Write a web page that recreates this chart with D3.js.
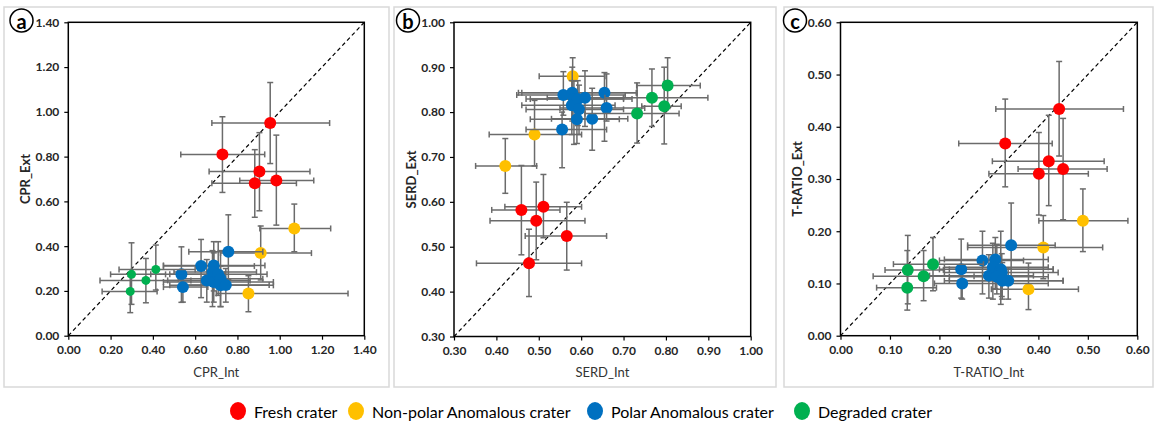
<!DOCTYPE html>
<html><head><meta charset="utf-8">
<script src="https://cdn.jsdelivr.net/npm/d3@7"></script>
<style>body{margin:0;background:#fff}text{font-family:Lato,"Open Sans",sans-serif}</style>
</head><body>
<svg id="chart" width="1155" height="423"></svg>
<script>
// ---------- DATA ----------
const categories = ["Fresh crater", "Non-polar Anomalous crater", "Polar Anomalous crater", "Degraded crater"];
const categoryColors = ["#FF0000", "#FFC000", "#0070C0", "#00B050"];

const cprTicks = [0.0, 0.2, 0.4, 0.6, 0.8, 1.0, 1.2, 1.4];
const serdTicks = [0.3, 0.4, 0.5, 0.6, 0.7, 0.8, 0.9, 1.0];
const tratioTicks = [0.0, 0.1, 0.2, 0.3, 0.4, 0.5, 0.6];

// rows: [category, Int, Ext, IntLow, IntHigh, ExtLow, ExtHigh]
const cprData = [
  [0, 0.955, 0.950, 0.679, 1.236, 0.769, 1.131],
  [0, 0.729, 0.810, 0.532, 0.929, 0.640, 0.978],
  [0, 0.904, 0.733, 0.666, 1.143, 0.558, 0.907],
  [0, 0.882, 0.681, 0.679, 1.079, 0.529, 0.831],
  [0, 0.984, 0.693, 0.811, 1.161, 0.494, 0.896],
  [1, 1.069, 0.479, 0.906, 1.241, 0.375, 0.588],
  [1, 0.910, 0.369, 0.720, 1.150, 0.249, 0.490],
  [1, 0.852, 0.189, 0.700, 1.323, 0.107, 0.268],
  [2, 0.535, 0.274, 0.390, 0.740, 0.149, 0.397],
  [2, 0.542, 0.217, 0.450, 0.660, 0.150, 0.280],
  [2, 0.628, 0.311, 0.450, 0.880, 0.170, 0.430],
  [2, 0.655, 0.247, 0.470, 0.860, 0.150, 0.340],
  [2, 0.688, 0.314, 0.450, 0.930, 0.200, 0.420],
  [2, 0.682, 0.284, 0.500, 0.890, 0.130, 0.380],
  [2, 0.688, 0.240, 0.450, 0.970, 0.150, 0.370],
  [2, 0.709, 0.275, 0.480, 0.940, 0.180, 0.420],
  [2, 0.720, 0.254, 0.520, 0.920, 0.130, 0.380],
  [2, 0.720, 0.225, 0.480, 0.970, 0.130, 0.310],
  [2, 0.745, 0.226, 0.550, 0.950, 0.150, 0.300],
  [2, 0.757, 0.375, 0.570, 0.920, 0.250, 0.540],
  [3, 0.299, 0.274, 0.200, 0.460, 0.140, 0.415],
  [3, 0.293, 0.198, 0.160, 0.420, 0.103, 0.265],
  [3, 0.367, 0.247, 0.150, 0.580, 0.147, 0.345],
  [3, 0.414, 0.296, 0.240, 0.600, 0.204, 0.405]
];

const serdData = [
  [0, 0.459, 0.582, 0.389, 0.550, 0.482, 0.681],
  [0, 0.511, 0.589, 0.420, 0.601, 0.520, 0.661],
  [0, 0.494, 0.558, 0.385, 0.609, 0.471, 0.644],
  [0, 0.566, 0.524, 0.468, 0.660, 0.448, 0.599],
  [0, 0.477, 0.463, 0.353, 0.601, 0.389, 0.539],
  [1, 0.580, 0.880, 0.501, 0.656, 0.838, 0.921],
  [1, 0.490, 0.750, 0.383, 0.601, 0.680, 0.826],
  [1, 0.421, 0.680, 0.351, 0.495, 0.619, 0.741],
  [2, 0.558, 0.838, 0.448, 0.704, 0.793, 0.890],
  [2, 0.579, 0.843, 0.452, 0.732, 0.780, 0.900],
  [2, 0.583, 0.829, 0.470, 0.700, 0.728, 0.869],
  [2, 0.578, 0.815, 0.460, 0.680, 0.750, 0.870],
  [2, 0.592, 0.829, 0.480, 0.720, 0.770, 0.870],
  [2, 0.609, 0.832, 0.520, 0.700, 0.768, 0.892],
  [2, 0.655, 0.843, 0.460, 0.730, 0.735, 0.888],
  [2, 0.660, 0.809, 0.550, 0.750, 0.780, 0.885],
  [2, 0.595, 0.806, 0.470, 0.700, 0.750, 0.860],
  [2, 0.590, 0.784, 0.480, 0.690, 0.730, 0.840],
  [2, 0.626, 0.785, 0.530, 0.710, 0.715, 0.853],
  [2, 0.555, 0.761, 0.470, 0.660, 0.676, 0.800],
  [3, 0.804, 0.859, 0.731, 0.881, 0.808, 0.921],
  [3, 0.767, 0.832, 0.656, 0.899, 0.768, 0.896],
  [3, 0.796, 0.813, 0.743, 0.836, 0.729, 0.900],
  [3, 0.732, 0.797, 0.609, 0.831, 0.731, 0.865]
];

const tratioData = [
  [0, 0.442, 0.434, 0.314, 0.572, 0.344, 0.525],
  [0, 0.333, 0.368, 0.239, 0.428, 0.285, 0.453],
  [0, 0.421, 0.334, 0.307, 0.533, 0.249, 0.422],
  [0, 0.450, 0.319, 0.359, 0.539, 0.222, 0.416],
  [0, 0.401, 0.310, 0.300, 0.501, 0.231, 0.389],
  [1, 0.490, 0.220, 0.401, 0.581, 0.161, 0.281],
  [1, 0.410, 0.169, 0.257, 0.530, 0.109, 0.230],
  [1, 0.380, 0.089, 0.305, 0.481, 0.050, 0.139],
  [2, 0.244, 0.127, 0.200, 0.430, 0.072, 0.185],
  [2, 0.246, 0.100, 0.190, 0.420, 0.070, 0.130],
  [2, 0.287, 0.144, 0.200, 0.370, 0.080, 0.200],
  [2, 0.313, 0.146, 0.210, 0.420, 0.090, 0.188],
  [2, 0.308, 0.131, 0.210, 0.420, 0.070, 0.177],
  [2, 0.324, 0.127, 0.220, 0.430, 0.060, 0.200],
  [2, 0.326, 0.121, 0.210, 0.440, 0.075, 0.157],
  [2, 0.300, 0.115, 0.180, 0.390, 0.072, 0.155],
  [2, 0.316, 0.113, 0.220, 0.420, 0.080, 0.175],
  [2, 0.327, 0.105, 0.210, 0.450, 0.070, 0.140],
  [2, 0.339, 0.105, 0.220, 0.450, 0.070, 0.130],
  [2, 0.345, 0.173, 0.257, 0.434, 0.107, 0.254],
  [3, 0.136, 0.126, 0.090, 0.208, 0.061, 0.192],
  [3, 0.135, 0.092, 0.073, 0.194, 0.049, 0.163],
  [3, 0.168, 0.114, 0.066, 0.270, 0.067, 0.163],
  [3, 0.187, 0.137, 0.107, 0.289, 0.086, 0.188]
];

// ---------- LAYOUT ----------
const panels = [
  {label: "a", data: cprData, ticks: cprTicks, xTitle: "CPR_Int", yTitle: "CPR_Ext",
   frame: [4, 7, 385, 380], plot: [68.3, 22.3, 364.3, 335.7], greenR: 4.5, lab: [21.5, 20.5], yt: 25},
  {label: "b", data: serdData, ticks: serdTicks, xTitle: "SERD_Int", yTitle: "SERD_Ext",
   frame: [394, 7, 382, 380], plot: [454, 22.3, 750.7, 336.5], greenR: 6, lab: [408, 20.5], yt: 411},
  {label: "c", data: tratioData, ticks: tratioTicks, xTitle: "T-RATIO_Int", yTitle: "T-RATIO_Ext",
   frame: [784, 7, 369, 380], plot: [840.5, 22.3, 1137.3, 335.7], greenR: 6, lab: [795, 20.5], yt: 797}
];

const svg = d3.select("#chart");
const fmt = d3.format(".2f");
const errColor = "#6b6b6b";

panels.forEach(p => {
  const [x0, y0, x1, y1] = p.plot;
  const dom = d3.extent(p.ticks);
  const xs = d3.scaleLinear().domain(dom).range([x0, x1]);
  const ys = d3.scaleLinear().domain(dom).range([y1, y0]);

  svg.append("rect").attr("x", p.frame[0]).attr("y", p.frame[1])
    .attr("width", p.frame[2]).attr("height", p.frame[3])
    .attr("fill", "none").attr("stroke", "#d9d9d9").attr("stroke-width", 1.5);

  const xa = svg.append("g").attr("transform", `translate(0,${y1})`)
    .call(d3.axisBottom(xs).tickValues(p.ticks).tickFormat(fmt).tickSize(4).tickSizeOuter(0).tickPadding(6));
  const ya = svg.append("g").attr("transform", `translate(${x0},0)`)
    .call(d3.axisLeft(ys).tickValues(p.ticks).tickFormat(fmt).tickSize(4).tickSizeOuter(0).tickPadding(5));
  [xa, ya].forEach(g => {
    g.select(".domain").remove();
    g.selectAll(".tick line").attr("stroke", "#000").attr("stroke-width", 1.2);
    g.selectAll("text").attr("font-family", "Lato, sans-serif").attr("font-weight", "bold")
      .attr("font-size", 12).attr("fill", "#262626");
  });

  svg.append("rect").attr("x", x0).attr("y", y0).attr("width", x1 - x0).attr("height", y1 - y0)
    .attr("fill", "none").attr("stroke", "#000").attr("stroke-width", 1.5);

  svg.append("line").attr("x1", xs(dom[0])).attr("y1", ys(dom[0]))
    .attr("x2", xs(dom[1])).attr("y2", ys(dom[1]))
    .attr("stroke", "#000").attr("stroke-width", 1.2).attr("stroke-dasharray", "4,3");

  const cap = 3;
  categories.forEach((c, ci) => {
    const rows = p.data.filter(r => r[0] === ci);
    const g = svg.append("g");
    rows.forEach(r => {
      const cx = xs(r[1]), cy = ys(r[2]);
      const e = g.append("g").attr("stroke", errColor).attr("stroke-width", 1.5);
      e.append("line").attr("x1", xs(r[3])).attr("x2", xs(r[4])).attr("y1", cy).attr("y2", cy);
      e.append("line").attr("x1", xs(r[3])).attr("x2", xs(r[3])).attr("y1", cy - cap).attr("y2", cy + cap);
      e.append("line").attr("x1", xs(r[4])).attr("x2", xs(r[4])).attr("y1", cy - cap).attr("y2", cy + cap);
      e.append("line").attr("x1", cx).attr("x2", cx).attr("y1", ys(r[5])).attr("y2", ys(r[6]));
      e.append("line").attr("x1", cx - cap).attr("x2", cx + cap).attr("y1", ys(r[5])).attr("y2", ys(r[5]));
      e.append("line").attr("x1", cx - cap).attr("x2", cx + cap).attr("y1", ys(r[6])).attr("y2", ys(r[6]));
    });
    g.selectAll("circle").data(rows).join("circle")
      .attr("cx", r => xs(r[1])).attr("cy", r => ys(r[2]))
      .attr("r", ci === 3 ? p.greenR : 6)
      .attr("fill", categoryColors[ci]);
  });

  svg.append("text").attr("x", (x0 + x1) / 2).attr("y", 377).attr("text-anchor", "middle")
    .attr("font-size", 13).attr("fill", "#333").text(p.xTitle);
  svg.append("text").attr("transform", `translate(${p.yt},${(y0 + y1) / 2}) rotate(-90)`)
    .attr("text-anchor", "middle").attr("dominant-baseline", "central")
    .attr("font-size", 13).attr("font-weight", "bold").attr("fill", "#262626").text(p.yTitle);

  svg.append("circle").attr("cx", p.lab[0]).attr("cy", p.lab[1]).attr("r", 11.5)
    .attr("fill", "#fff").attr("stroke", "#000").attr("stroke-width", 1.5);
  svg.append("text").attr("x", p.lab[0]).attr("y", p.lab[1]).attr("text-anchor", "middle")
    .attr("dominant-baseline", "central").attr("font-size", 20).attr("font-weight", "bold")
    .attr("fill", "#000").text(p.label);
});

// legend
const legendX = [238, 356, 595, 802];
const lg = svg.append("g");
categories.forEach((c, i) => {
  lg.append("ellipse").attr("cx", legendX[i]).attr("cy", 411).attr("rx", 8).attr("ry", 9)
    .attr("fill", categoryColors[i]);
  lg.append("text").attr("x", legendX[i] + 16).attr("y", 411.5).attr("dominant-baseline", "central")
    .attr("font-size", 16).attr("fill", "#000").text(c);
});
</script>
</body></html>
